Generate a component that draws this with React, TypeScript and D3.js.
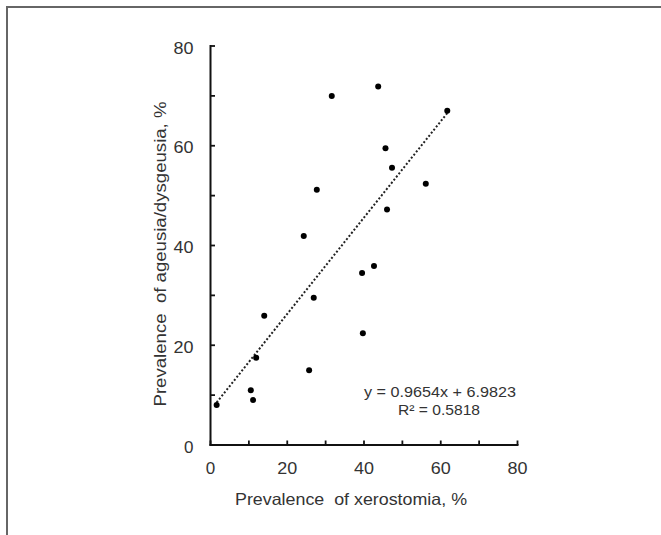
import React from "react";
import * as d3 from "d3";

const xerostomia = [31.6, 43.7, 61.7, 45.6, 47.3, 56.1, 27.7, 46.0, 24.3, 39.5, 42.6, 26.9, 14.0, 39.7, 11.9, 25.7, 10.5, 11.1, 1.6];
const ageusia = [70.0, 71.9, 67.0, 59.5, 55.6, 52.4, 51.2, 47.2, 41.9, 34.5, 35.9, 29.5, 25.9, 22.4, 17.5, 15.0, 11.0, 9.0, 8.0];
const majorTicks = [0, 20, 40, 60, 80];
const minorTicks = [10, 30, 50, 70];
const slope = 0.9654;
const intercept = 6.9823;
const equationText = "y = 0.9654x + 6.9823";
const r2Text = "R² = 0.5818";
const xTitle = "Prevalence  of xerostomia, %";
const yTitle = "Prevalence  of ageusia/dysgeusia, %";

export default function App() {
  const W = 661, H = 535;
  const x = d3.scaleLinear().domain([0, 80]).range([210.5, 517.5]);
  const y = d3.scaleLinear().domain([0, 80]).range([445, 46]);
  const xMin = d3.min(xerostomia) as number;
  const xMax = d3.max(xerostomia) as number;
  const line = d3.line<number>().x((d) => x(d)).y((d) => y(slope * d + intercept));
  const font = "Arial, 'Liberation Sans', sans-serif";
  const axisColor = "#111";
  const textColor = "#333";
  return (
    <svg width={W} height={H} style={{ position: "absolute", left: 0, top: 0, background: "#fff" }} fontFamily={font}>
      {/* frame */}
      <line x1={6} y1={7} x2={W} y2={7} stroke="#666" strokeWidth={2} />
      <line x1={7} y1={6} x2={7} y2={H} stroke="#666" strokeWidth={2} />

      {/* axes */}
      <line x1={x(0)} y1={y(0)} x2={x(80)} y2={y(0)} stroke={axisColor} strokeWidth={2} strokeLinecap="square" />
      <line x1={x(0)} y1={y(0)} x2={x(0)} y2={y(80)} stroke={axisColor} strokeWidth={2} strokeLinecap="square" />
      {[...majorTicks, ...minorTicks].map((t) => (
        <g key={"t" + t}>
          <line x1={x(t)} y1={y(0)} x2={x(t)} y2={y(0) - 4.5} stroke={axisColor} strokeWidth={1.8} />
          <line x1={x(0)} y1={y(t)} x2={x(0) + 4.5} y2={y(t)} stroke={axisColor} strokeWidth={1.8} />
        </g>
      ))}
      {majorTicks.map((t) => (
        <g key={"l" + t} fill={textColor} fontSize={17}>
          <text x={x(t)} y={468} dy="0.36em" textAnchor="middle" textLength={t === 0 ? undefined : 20} lengthAdjust="spacingAndGlyphs">{t}</text>
          <text x={193.5} y={y(t) + 1.5} dy="0.36em" textAnchor="end" textLength={t === 0 ? undefined : 20} lengthAdjust="spacingAndGlyphs">{t}</text>
        </g>
      ))}

      {/* trendline */}
      <path d={line([xMin, xMax]) || ""} fill="none" stroke="#222" strokeWidth={2} strokeDasharray="2 2" />

      {/* points */}
      {xerostomia.map((v, i) => (
        <circle key={i} cx={x(v)} cy={y(ageusia[i])} r={3} fill="#000" />
      ))}

      {/* equation */}
      <text x={440} y={391.7} dy="0.36em" textAnchor="middle" fontSize={14.5} fill={textColor} textLength={152} lengthAdjust="spacingAndGlyphs">{equationText}</text>
      <text x={439} y={410} dy="0.36em" textAnchor="middle" fontSize={14.5} fill={textColor} textLength={82} lengthAdjust="spacingAndGlyphs">{r2Text}</text>

      {/* titles */}
      <text x={351} y={499} dy="0.36em" textAnchor="middle" fontSize={16.5} fill={textColor} style={{ whiteSpace: "pre" }} textLength={232} lengthAdjust="spacingAndGlyphs">{xTitle}</text>
      <text transform={`translate(160.7,254) rotate(-90)`} dy="0.36em" textAnchor="middle" fontSize={16} fill={textColor} style={{ whiteSpace: "pre" }} textLength={305} lengthAdjust="spacingAndGlyphs">{yTitle}</text>
    </svg>
  );
}
